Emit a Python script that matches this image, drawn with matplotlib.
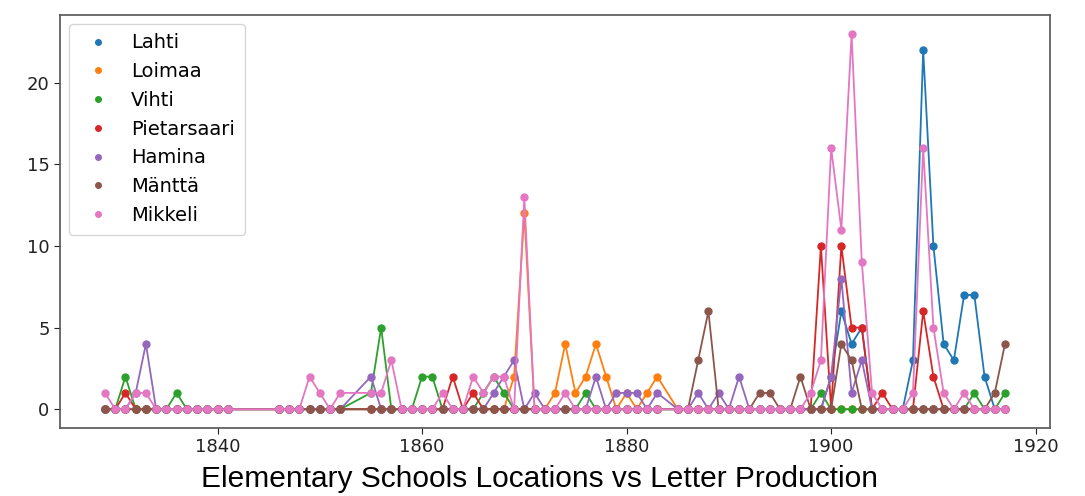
import matplotlib
matplotlib.use("Agg")
import matplotlib.pyplot as plt
from matplotlib.lines import Line2D

# Years with recorded data (gaps: 1842-1845, 1853-1854, 1884)
years = (list(range(1829, 1842)) + list(range(1846, 1853)) +
         list(range(1855, 1884)) + list(range(1885, 1918)))

# Non-zero letter counts per location (all other years are 0)
lahti = {1900: 2, 1901: 6, 1902: 4, 1903: 5, 1908: 3, 1909: 22, 1910: 10,
         1911: 4, 1912: 3, 1913: 7, 1914: 7, 1915: 2}
loimaa = {1869: 2, 1870: 12, 1873: 1, 1874: 4, 1875: 1, 1876: 2, 1877: 4,
          1878: 2, 1880: 1, 1882: 1, 1883: 2}
vihti = {1831: 2, 1836: 1, 1855: 1, 1856: 5, 1860: 2, 1861: 2, 1866: 1,
         1867: 2, 1868: 1, 1876: 1, 1899: 1, 1914: 1, 1917: 1}
pietarsaari = {1831: 1, 1863: 2, 1865: 1, 1899: 10, 1901: 10, 1902: 5,
               1903: 5, 1905: 1, 1909: 6, 1910: 2}
hamina = {1832: 1, 1833: 4, 1855: 2, 1867: 1, 1868: 2, 1869: 3, 1871: 1,
          1877: 2, 1879: 1, 1880: 1, 1881: 1, 1883: 1, 1887: 1, 1889: 1,
          1891: 2, 1900: 2, 1901: 8, 1902: 1, 1903: 3}
mantta = {1887: 3, 1888: 6, 1893: 1, 1894: 1, 1897: 2, 1901: 4, 1902: 3,
          1916: 1, 1917: 4}
mikkeli = {1829: 1, 1832: 1, 1833: 1, 1849: 2, 1850: 1, 1852: 1, 1855: 1,
           1856: 1, 1857: 3, 1862: 1, 1865: 2, 1866: 1, 1867: 2, 1868: 2,
           1870: 13, 1874: 1, 1898: 1, 1899: 3, 1900: 16, 1901: 11, 1902: 23,
           1903: 9, 1904: 1, 1908: 1, 1909: 16, 1910: 5, 1911: 1, 1913: 1}

names = ["Lahti", "Loimaa", "Vihti", "Pietarsaari", "Hamina", "Mänttä", "Mikkeli"]
series = [lahti, loimaa, vihti, pietarsaari, hamina, mantta, mikkeli]
colors = ["#1f77b4", "#ff7f0e", "#2ca02c", "#d62728", "#9467bd", "#8c564b", "#e377c2"]

fig = plt.figure(figsize=(10.85, 4.96), dpi=100)
ax = fig.add_axes([60 / 1085, 1 - 428 / 496, (1050 - 60) / 1085, (428 - 15) / 496])

handles = []
for name, data, c in zip(names, series, colors):
    vals = [data.get(y, 0) for y in years]
    ax.plot(years, vals, color=c, lw=1.3, marker="o", markersize=5, zorder=2)
    handles.append(Line2D([], [], color=c, marker="o", linestyle="none",
                          markersize=4, label=name))

ax.set_xticks([1840, 1860, 1880, 1900, 1920])
ax.set_yticks([0, 5, 10, 15, 20])
ax.tick_params(labelsize=13, colors="#222222", length=4)
for s in ax.spines.values():
    s.set_color("#555555")
    s.set_linewidth(1.2)

leg = ax.legend(handles=handles, loc="upper left", fontsize=14,
                handletextpad=0.7, labelspacing=0.5, borderpad=0.5,
                borderaxespad=0.45, frameon=True)
leg.get_frame().set_edgecolor("#cccccc")

fig.text(0.497, 0.006, "Elementary Schools Locations vs Letter Production",
         ha="center", va="bottom", fontsize=21.5, family="Liberation Sans")

fig.savefig("out.png", dpi=100)
